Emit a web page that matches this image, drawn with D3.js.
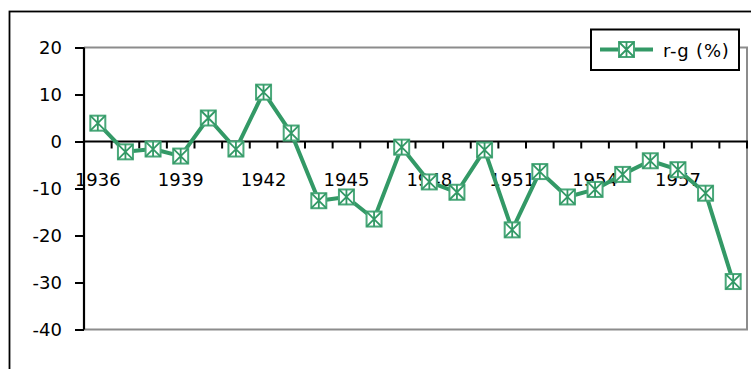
<!DOCTYPE html>
<html>
<head>
<meta charset="utf-8">
<script src="https://cdn.jsdelivr.net/npm/d3@7"></script>
<style>
  html, body { margin: 0; padding: 0; background: #fff; }
  svg { display: block; }
  text { font-family: "DejaVu Sans", Verdana, sans-serif; fill: #000; }
</style>
</head>
<body>
<svg id="chart" width="751" height="369"></svg>
<script>
// r - g spread by year, in percent
const years = [1936, 1937, 1938, 1939, 1940, 1941, 1942, 1943, 1944, 1945, 1946, 1947,
               1948, 1949, 1950, 1951, 1952, 1953, 1954, 1955, 1956, 1957, 1958, 1959];
const rMinusG = [3.9, -2.2, -1.6, -3.1, 5.0, -1.6, 10.5, 1.8, -12.6, -11.8, -16.5, -1.2,
                 -8.6, -10.8, -1.8, -18.8, -6.4, -11.8, -10.2, -7.0, -4.1, -6.0, -11.0, -29.8];
const yTicks = [20, 10, 0, -10, -20, -30, -40];
const xLabelYears = [1936, 1939, 1942, 1945, 1948, 1951, 1954, 1957];
const seriesName = "r-g (%)";

const green = "#339966";
const svg = d3.select("#chart");

const plot = { left: 84, right: 747, top: 47.5, bottom: 329.5 };

const x = d3.scaleBand().domain(years).range([plot.left, plot.right]).paddingInner(0).paddingOuter(0);
const y = d3.scaleLinear().domain([-40, 20]).range([plot.bottom, plot.top]);
const cx = d => x(d) + x.bandwidth() / 2;

// chart area frame
svg.append("rect")
  .attr("x", 9.5).attr("y", 11.5).attr("width", 800).attr("height", 400)
  .attr("fill", "#fff").attr("stroke", "#000").attr("stroke-width", 1.8);

// plot area frame (top, right, bottom)
svg.append("path")
  .attr("d", `M${plot.left},${plot.top}H${plot.right}V${plot.bottom}H${plot.left}`)
  .attr("fill", "none").attr("stroke", "#8c8c8c").attr("stroke-width", 2);

// value axis
const yAxis = svg.append("g")
  .attr("transform", `translate(${plot.left},0)`)
  .call(d3.axisLeft(y).tickValues(yTicks).tickSize(9).tickPadding(13).tickFormat(d3.format("d")));
yAxis.select(".domain").attr("stroke", "#000").attr("stroke-width", 2.2)
  .attr("d", `M0,${plot.top}V${plot.bottom}`);
yAxis.selectAll(".tick line").attr("stroke", "#000").attr("stroke-width", 2);
yAxis.selectAll(".tick text").style("font-size", "18px").attr("fill", "#000")
  .text(d => d < 0 ? "-" + Math.abs(d) : d);

// category axis on the zero line
const y0 = y(0);
const xAxis = svg.append("g").attr("transform", `translate(0,${y0})`);
xAxis.append("line")
  .attr("x1", plot.left).attr("x2", plot.right + 1)
  .attr("y1", 0).attr("y2", 0)
  .attr("stroke", "#000").attr("stroke-width", 2.2);
const bounds = years.map(d => x(d)).concat([plot.right]).slice(1);
xAxis.selectAll("line.bt").data(bounds).join("line")
  .attr("class", "bt")
  .attr("x1", d => d).attr("x2", d => d)
  .attr("y1", 0).attr("y2", 7)
  .attr("stroke", "#000").attr("stroke-width", 2);
xAxis.selectAll("text.xl").data(xLabelYears).join("text")
  .attr("class", "xl")
  .attr("x", d => cx(d)).attr("y", 44)
  .attr("text-anchor", "middle")
  .style("font-size", "18px")
  .text(d => d);

// series line
const line = d3.line().x((d, i) => cx(years[i])).y(d => y(d));
svg.append("path")
  .datum(rMinusG)
  .attr("d", line)
  .attr("fill", "none").attr("stroke", green).attr("stroke-width", 4)
  .attr("stroke-linejoin", "round");

// square marker with an asterisk inside
function drawMarker(g) {
  const s = 7.5;
  g.append("rect").attr("x", -s).attr("y", -s).attr("width", 2 * s).attr("height", 2 * s)
    .attr("fill", "#fff").attr("stroke", "#4aa87a").attr("stroke-width", 2);
  g.append("path")
    .attr("d", `M${-s},${-s}L${s},${s}M${s},${-s}L${-s},${s}M0,${-s}V${s}`)
    .attr("stroke", green).attr("stroke-width", 1.8).attr("fill", "none");
}

svg.selectAll("g.pt").data(rMinusG).join("g")
  .attr("class", "pt")
  .attr("transform", (d, i) => `translate(${cx(years[i])},${y(d)})`)
  .each(function () { drawMarker(d3.select(this)); });

// legend
const lg = svg.append("g");
lg.append("rect").attr("x", 591).attr("y", 29.5).attr("width", 148).attr("height", 40.5)
  .attr("fill", "#fff").attr("stroke", "#000").attr("stroke-width", 2);
lg.append("line").attr("x1", 600).attr("x2", 653).attr("y1", 49.5).attr("y2", 49.5)
  .attr("stroke", green).attr("stroke-width", 4);
lg.append("g").attr("transform", "translate(626.5,49.5)").call(drawMarker);
lg.append("text").attr("x", 663).attr("y", 57).style("font-size", "18px")
  .style("letter-spacing", "0.8px").text(seriesName);
</script>
</body>
</html>
